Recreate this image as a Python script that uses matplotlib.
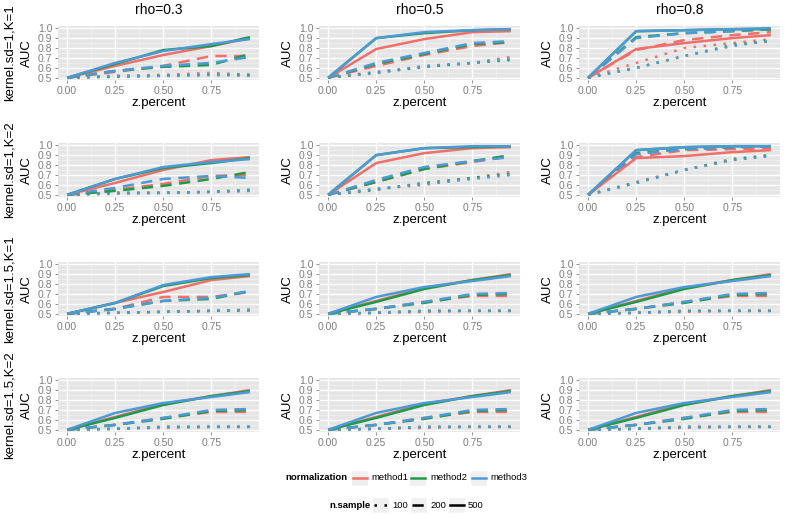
import matplotlib.pyplot as plt
from matplotlib.lines import Line2D
from matplotlib.patches import Rectangle

plt.rcParams['font.family'] = ['Liberation Sans', 'DejaVu Sans']

# --- Data -------------------------------------------------------------------
z_percent = [0.0, 0.25, 0.5, 0.75, 0.95]
methods = ['method1', 'method2', 'method3']
n_samples = ['100', '200', '500']
col_titles = ['rho=0.3', 'rho=0.5', 'rho=0.8']
row_titles = ['kernel.sd=1,K=1', 'kernel.sd=1,K=2', 'kernel.sd=1.5,K=1', 'kernel.sd=1.5,K=2']

# each panel: n.sample -> [method1, method2, method3]
auc_sd1_k1_rho03 = {
    '500': [[0.5, 0.62, 0.73, 0.82, 0.90], [0.5, 0.64, 0.78, 0.82, 0.91], [0.5, 0.65, 0.77, 0.84, 0.89]],
    '200': [[0.5, 0.56, 0.62, 0.72, 0.72], [0.5, 0.57, 0.61, 0.63, 0.74], [0.5, 0.57, 0.62, 0.65, 0.71]],
    '100': [[0.5, 0.52, 0.53, 0.55, 0.53], [0.5, 0.51, 0.52, 0.53, 0.53], [0.5, 0.52, 0.52, 0.53, 0.52]],
}
auc_sd1_k1_rho05 = {
    '500': [[0.5, 0.79, 0.89, 0.96, 0.97], [0.5, 0.90, 0.95, 0.98, 0.99], [0.5, 0.90, 0.96, 0.98, 0.99]],
    '200': [[0.5, 0.62, 0.73, 0.82, 0.86], [0.5, 0.64, 0.74, 0.84, 0.86], [0.5, 0.65, 0.75, 0.85, 0.87]],
    '100': [[0.5, 0.56, 0.61, 0.65, 0.71], [0.5, 0.55, 0.61, 0.65, 0.68], [0.5, 0.55, 0.62, 0.65, 0.69]],
}
auc_sd1_k1_rho08 = {
    '500': [[0.5, 0.79, 0.85, 0.90, 0.93], [0.5, 0.97, 0.98, 0.99, 0.99], [0.5, 0.97, 0.98, 0.99, 1.00]],
    '200': [[0.5, 0.78, 0.88, 0.93, 0.96], [0.5, 0.91, 0.95, 0.97, 0.99], [0.5, 0.90, 0.95, 0.97, 0.99]],
    '100': [[0.5, 0.65, 0.80, 0.85, 0.89], [0.5, 0.60, 0.72, 0.83, 0.87], [0.5, 0.60, 0.72, 0.82, 0.88]],
}
auc_sd1_k2_rho03 = {
    '500': [[0.5, 0.62, 0.75, 0.85, 0.88], [0.5, 0.66, 0.77, 0.82, 0.87], [0.5, 0.66, 0.78, 0.83, 0.86]],
    '200': [[0.5, 0.55, 0.61, 0.69, 0.70], [0.5, 0.54, 0.59, 0.66, 0.73], [0.5, 0.57, 0.66, 0.69, 0.67]],
    '100': [[0.5, 0.51, 0.52, 0.53, 0.54], [0.5, 0.52, 0.52, 0.53, 0.55], [0.5, 0.52, 0.52, 0.53, 0.54]],
}
auc_sd1_k2_rho05 = {
    '500': [[0.5, 0.82, 0.92, 0.97, 0.98], [0.5, 0.90, 0.97, 0.98, 0.99], [0.5, 0.90, 0.97, 0.99, 0.99]],
    '200': [[0.5, 0.63, 0.76, 0.83, 0.89], [0.5, 0.63, 0.76, 0.84, 0.90], [0.5, 0.65, 0.78, 0.84, 0.88]],
    '100': [[0.5, 0.56, 0.60, 0.67, 0.73], [0.5, 0.55, 0.62, 0.67, 0.71], [0.5, 0.56, 0.61, 0.66, 0.70]],
}
auc_sd1_k2_rho08 = {
    '500': [[0.5, 0.87, 0.89, 0.93, 0.95], [0.5, 0.95, 0.98, 0.99, 0.99], [0.5, 0.95, 0.98, 0.99, 0.99]],
    '200': [[0.5, 0.88, 0.95, 0.96, 0.97], [0.5, 0.92, 0.96, 0.98, 0.99], [0.5, 0.91, 0.96, 0.98, 0.99]],
    '100': [[0.5, 0.63, 0.75, 0.85, 0.90], [0.5, 0.62, 0.75, 0.86, 0.90], [0.5, 0.62, 0.75, 0.85, 0.89]],
}
auc_sd15_k1_rho03 = {
    '500': [[0.5, 0.61, 0.72, 0.84, 0.88], [0.5, 0.61, 0.78, 0.86, 0.89], [0.5, 0.61, 0.79, 0.87, 0.90]],
    '200': [[0.5, 0.55, 0.67, 0.67, 0.72], [0.5, 0.55, 0.63, 0.65, 0.73], [0.5, 0.55, 0.63, 0.66, 0.73]],
    '100': [[0.5, 0.51, 0.52, 0.53, 0.53], [0.5, 0.51, 0.52, 0.53, 0.54], [0.5, 0.51, 0.52, 0.53, 0.54]],
}
# the remaining five panels look the same in the figure
auc_sd15_other = {
    '500': [[0.5, 0.63, 0.76, 0.84, 0.90], [0.5, 0.62, 0.75, 0.84, 0.89], [0.5, 0.67, 0.77, 0.83, 0.88]],
    '200': [[0.5, 0.55, 0.62, 0.68, 0.68], [0.5, 0.55, 0.61, 0.69, 0.70], [0.5, 0.55, 0.62, 0.70, 0.71]],
    '100': [[0.5, 0.51, 0.52, 0.53, 0.53], [0.5, 0.51, 0.53, 0.53, 0.53], [0.5, 0.51, 0.53, 0.53, 0.53]],
}

panels = [
    [auc_sd1_k1_rho03, auc_sd1_k1_rho05, auc_sd1_k1_rho08],
    [auc_sd1_k2_rho03, auc_sd1_k2_rho05, auc_sd1_k2_rho08],
    [auc_sd15_k1_rho03, auc_sd15_other, auc_sd15_other],
    [auc_sd15_other, auc_sd15_other, auc_sd15_other],
]

# --- Style ------------------------------------------------------------------
colors = ['#EF6F6A', '#1E9A48', '#4D9AD6']
styles = {'100': (0, (1, 3)), '200': (0, (4.5, 3)), '500': '-'}
W, H = 785, 515
col_left = [58, 319, 579]
row_top = [26, 143, 262, 378]
pw, ph = 201, 54

fig = plt.figure(figsize=(W / 100, H / 100), dpi=100)

for r in range(4):
    for c in range(3):
        ax = fig.add_axes([col_left[c] / W, 1 - (row_top[r] + ph) / H, pw / W, ph / H])
        ax.set_facecolor('#E5E5E5')
        for v in [0.125, 0.375, 0.625, 0.875]:
            ax.axvline(v, color='#F2F2F2', lw=0.5, zorder=0)
        for v in [0.55, 0.65, 0.75, 0.85, 0.95]:
            ax.axhline(v, color='#F2F2F2', lw=0.5, zorder=0)
        ax.grid(True, color='white', lw=1.0)
        ax.set_axisbelow(True)
        data = panels[r][c]
        for n in n_samples:
            for m in range(3):
                ax.plot(z_percent, data[n][m], color=colors[m], ls=styles[n], lw=1.8,
                        solid_capstyle='butt', dash_capstyle='butt')
        ax.set_xlim(-0.0475, 0.9975)
        ax.set_ylim(0.478, 1.022)
        ax.set_xticks([0, 0.25, 0.5, 0.75])
        ax.set_xticklabels(['0.00', '0.25', '0.50', '0.75'])
        ax.set_yticks([0.5, 0.6, 0.7, 0.8, 0.9, 1.0])
        ax.set_yticklabels(['0.5', '0.6', '0.7', '0.8', '0.9', '1.0'])
        ax.tick_params(colors='#7F7F7F', labelsize=7.5, length=2.5, width=0.6, pad=1.5)
        for s in ax.spines.values():
            s.set_visible(False)
        ax.set_xlabel('z.percent', fontsize=9.5, labelpad=1)
        ax.set_ylabel('AUC', fontsize=9.5)
        ax.yaxis.set_label_coords(-25 / pw, 0.5)
        if r == 0:
            ax.set_title(col_titles[c], fontsize=10, pad=9)
    fig.text(10 / W, 1 - (row_top[r] + ph / 2) / H, row_titles[r], rotation=90,
             ha='center', va='center', fontsize=9.5)

# --- Legend -----------------------------------------------------------------
def key(x0, y, color, ls):
    fig.add_artist(Rectangle((x0 / W, 1 - (y + 8) / H), 17 / W, 16 / H,
                             transform=fig.transFigure, facecolor='#F0F0F0', edgecolor='white'))
    fig.add_artist(Line2D([(x0 + 1.5) / W, (x0 + 15.5) / W], [1 - y / H, 1 - y / H],
                          transform=fig.transFigure, color=color, ls=ls, lw=1.8))

fs = 6.8
ly1 = 478
fig.text(285 / W, 1 - ly1 / H, 'normalization', fontsize=fs, fontweight='bold', va='center')
for i, (kx, tx) in enumerate([(351, 371), (409, 430), (470, 490)]):
    key(kx, ly1, colors[i], '-')
    fig.text(tx / W, 1 - ly1 / H, methods[i], fontsize=fs, va='center')

ly2 = 505
fig.text(329 / W, 1 - ly2 / H, 'n.sample', fontsize=fs, fontweight='bold', va='center')
for i, (kx, tx) in enumerate([(372, 392), (410, 430), (448, 468)]):
    key(kx, ly2, 'black', styles[n_samples[i]])
    fig.text(tx / W, 1 - ly2 / H, n_samples[i], fontsize=fs, va='center')

fig.savefig('out.png', dpi=100)
